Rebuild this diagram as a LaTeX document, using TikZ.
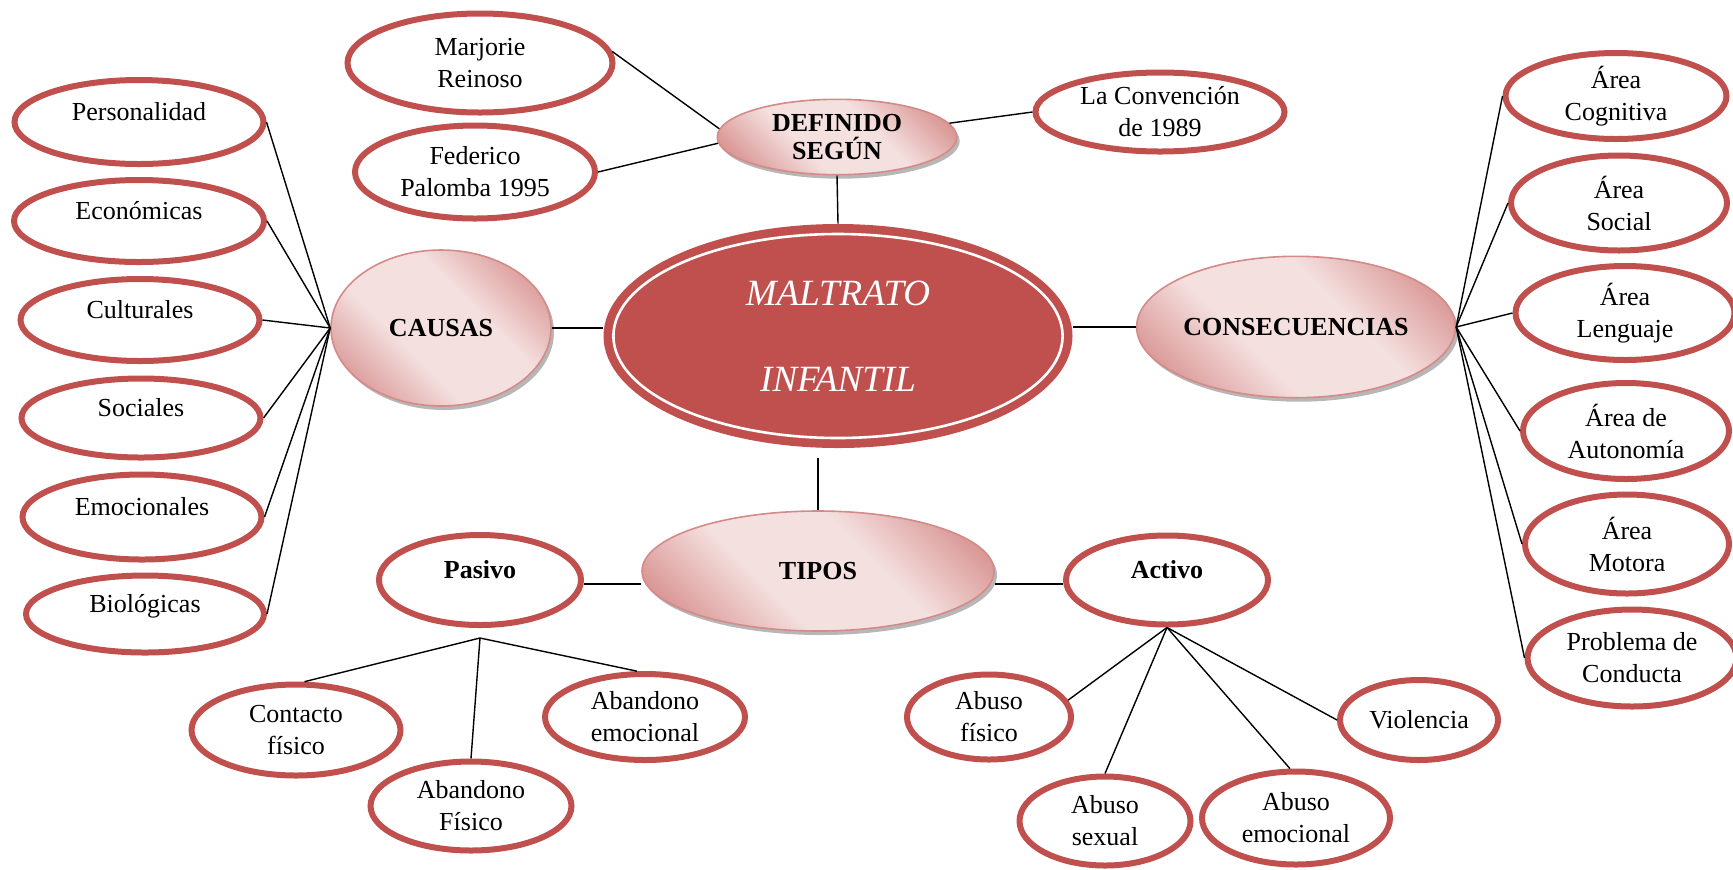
\documentclass[tikz,border=0pt]{standalone}
\usepackage{fontspec}
\setmainfont{Liberation Serif}
\usetikzlibrary{shapes.geometric,shadows}
\definecolor{maltred}{HTML}{C0504D}
\definecolor{pinkdark}{HTML}{D99694}
\definecolor{pinklight}{HTML}{F4E0DF}
\definecolor{pinkline}{HTML}{D48A88}

\pgfdeclareverticalshading{rosa}{100bp}{color(0bp)=(pinkdark); color(22bp)=(pinkdark); color(40bp)=(pinklight);
  color(60bp)=(pinklight); color(78bp)=(pinkdark); color(100bp)=(pinkdark)}

\tikzset{
  hoja/.style={ellipse, draw=maltred, line width=3pt, fill=white, inner sep=0pt, align=center,
    font=\fontsize{13}{16}\selectfont},
  sube/.style={text height=9pt, text depth=11pt},
  rama/.style={ellipse, draw=pinkline, line width=0.8pt, inner sep=0pt, align=center,
    font=\fontsize{13}{14}\selectfont\bfseries,
    shading=rosa, shading angle=-45,
    drop shadow={shadow xshift=1.5pt, shadow yshift=-2pt, fill=gray!80, opacity=0.7}},
  enlace/.style={black, line width=0.7pt},
}

\begin{document}
\begin{tikzpicture}[x=0.5pt, y=-0.5pt]
    \useasboundingbox (0,0) rectangle (1733,869);

    % centro
    \node [ellipse, fill=maltred, minimum width=234.5pt, minimum height=112pt, inner sep=0pt, align=center,
           text=white, font=\fontsize{18.5}{43}\selectfont\itshape] (mal) at (838,336) {MALTRATO\\INFANTIL};
    \draw [white, line width=1.3pt] (mal.center) ellipse [x radius=112.3pt, y radius=51pt];

    % ramas
    \node [rama, minimum width=119.7pt, minimum height=37.7pt] (def) at (837,137) {DEFINIDO\\SEGÚN};
    \node [rama, minimum width=110pt, minimum height=78pt] (causas) at (441,328) {CAUSAS};
    \node [rama, minimum width=157.7pt, minimum height=70.7pt] (cons) at (1296,327) {CONSECUENCIAS};
    \node [rama, minimum width=176pt, minimum height=60pt, text depth=0pt] (tipos) at (818,571) {TIPOS};

    % definido segun
    \node [hoja, minimum width=132.5pt, minimum height=49.5pt] (marj) at (480,63) {Marjorie\\Reinoso};
    \node [hoja, minimum width=120pt, minimum height=46.5pt] (fed) at (475,172) {Federico\\Palomba 1995};
    \node [hoja, minimum width=124.5pt, minimum height=39.5pt] (conv) at (1160,112) {La Convención\\de 1989};

    % causas
    \node [hoja, sube, minimum width=124.5pt, minimum height=42pt] (pers) at (139,122) {Personalidad};
    \node [hoja, sube, minimum width=125pt, minimum height=41pt] (econ) at (139,221) {Económicas};
    \node [hoja, sube, minimum width=119.5pt, minimum height=41pt] (cult) at (140,320) {Culturales};
    \node [hoja, sube, minimum width=119.5pt, minimum height=39.5pt] (soc) at (141,418) {Sociales};
    \node [hoja, sube, minimum width=119.5pt, minimum height=42.5pt] (emo) at (142,517) {Emocionales};
    \node [hoja, sube, minimum width=119pt, minimum height=38.5pt] (bio) at (145,614) {Biológicas};

    % consecuencias
    \node [hoja, minimum width=110.5pt, minimum height=43pt] (cog) at (1616,96) {Área\\Cognitiva};
    \node [hoja, minimum width=108pt, minimum height=47.5pt] (asoc) at (1619,203) {Área\\Social};
    \node [hoja, minimum width=109.5pt, minimum height=47pt] (len) at (1625,313) {Área\\Lenguaje};
    \node [hoja, minimum width=103pt, minimum height=48pt] (aut) at (1626,431) {Área de\\Autonomía};
    \node [hoja, minimum width=102pt, minimum height=49.5pt] (mot) at (1627,544) {Área\\Motora};
    \node [hoja, minimum width=104.5pt, minimum height=48.5pt] (prob) at (1632,658) {Problema de\\Conducta};

    % tipos
    \node [hoja, sube, minimum width=101pt, minimum height=45pt, font=\fontsize{13}{16}\selectfont\bfseries] (pas) at (480,580) {Pasivo};
    \node [hoja, sube, minimum width=101pt, minimum height=44.5pt, font=\fontsize{13}{16}\selectfont\bfseries] (act) at (1167,580) {Activo};
    \node [hoja, minimum width=104.5pt, minimum height=45.5pt] (cont) at (296,730) {Contacto\\físico};
    \node [hoja, minimum width=100.5pt, minimum height=44.5pt] (abfis) at (471,806) {Abandono\\Físico};
    \node [hoja, minimum width=100pt, minimum height=43pt] (abemo) at (645,717) {Abandono\\emocional};
    \node [hoja, minimum width=82pt, minimum height=42.5pt] (absfis) at (989,717) {Abuso\\físico};
    \node [hoja, minimum width=85.5pt, minimum height=44.5pt] (abssex) at (1105,821) {Abuso\\sexual};
    \node [hoja, minimum width=94pt, minimum height=46.5pt] (absemo) at (1296,818) {Abuso\\emocional};
    \node [hoja, minimum width=79pt, minimum height=40pt] (viol) at (1419,720) {Violencia};

    \coordinate (pashub) at ([yshift=-5pt]pas.south);

    % conectores
    \draw [enlace] (def.south) -- (mal.north);
    \draw [enlace] (causas.east) -- (causas.east -| mal.west);
    \draw [enlace] (mal.east |- cons.west) -- (cons.west);
    \draw [enlace, shorten >=5pt] (tipos.north) -- (tipos.north |- mal.south);
    \draw [enlace] (marj.5) -- (def.176);
    \draw [enlace] (fed.east) -- (def.183);
    \draw [enlace] (def.7) -- (conv.west);
    \foreach \n in {pers,econ,cult,soc,emo,bio}
        \draw [enlace] (\n.east) -- (causas.west);
    \foreach \n in {cog,asoc,len,aut,mot,prob}
        \draw [enlace] (cons.east) -- (\n.west);
    \draw [enlace] ([yshift=-2pt]pas.east) -- ([yshift=-2pt]pas.east -| tipos.west);
    \draw [enlace] ([yshift=-2pt]act.west -| tipos.east) -- ([yshift=-2pt]act.west);
    \draw [enlace] (pashub) -- (cont.80);
    \draw [enlace] (pashub) -- (abfis.north);
    \draw [enlace] (pashub) -- (abemo.100);
    \draw [enlace] (act.south) -- (absfis.12);
    \draw [enlace] (act.south) -- (abssex.north);
    \draw [enlace] (act.south) -- (absemo.97);
    \draw [enlace] (act.south) -- (viol.west);
\end{tikzpicture}
\end{document}
